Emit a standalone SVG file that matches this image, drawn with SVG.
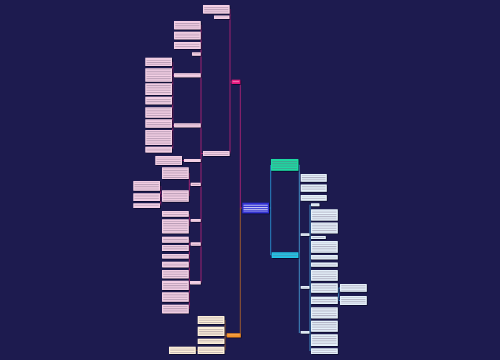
<svg xmlns="http://www.w3.org/2000/svg" width="500" height="360" viewBox="0 0 500 360">
<defs>
<pattern id="dk" width="3" height="2.3" patternUnits="userSpaceOnUse"><rect width="3" height="1" fill="#6a5a78" opacity="0.42"/></pattern>
<pattern id="lt" width="3" height="2.3" patternUnits="userSpaceOnUse"><rect width="3" height="1" fill="#ffffff" opacity="0.8"/></pattern>
<filter id="sh" x="-10%" y="-10%" width="130%" height="130%"><feDropShadow dx="0.7" dy="0.7" stdDeviation="0.3" flood-color="#05041a" flood-opacity="0.9"/></filter>
<style>
.pk{fill:#f4d0e5}.oc{fill:#fcefd9}.bl{fill:#e6f2fb}
.t{fill:url(#dk)}.w{fill:url(#lt)}
.cp{fill:none;stroke:#ab2475;stroke-width:0.9}
.co{fill:none;stroke:#a5602e;stroke-width:0.9}
.cb{fill:none;stroke:#4aa8e0;stroke-width:0.8}
.ct{fill:none;stroke:#2a8fd0;stroke-width:0.9}
</style>
</defs>
<rect width="500" height="360" fill="#1d1b4f"/>
<g id="connectors">
<path class="cp" d="M240.3,84V208H242.3M231.7,82H230M230,9V153.5M203,153.5H201M201,25V283M174,75.2H172.7M174,125.3H172.7M172.7,62V149M182,160.5H184M190.7,184.3H189.3M189.3,173V196M162,196H160.7M160.7,186V205.7M190.7,220.3H189.3M189.3,214V226M190.7,244H189.3M190,282.7H189.3M189.3,239.7V309"/>
<path class="co" d="M240.3,208V333.3M226.7,335.3H225M225,320V350.3M197.7,350.3H195.7"/>
<path class="ct" d="M269,208H270.7M270.7,165V255H271.7"/>
<path class="cb" d="M298.3,165H299.3V333M309.3,234.6H310M309.3,287.3H310M309.3,332.2H310M310,204.7V351M337.7,288H338.7V300.5H340M338.7,288H340"/>
</g>
<g filter="url(#sh)">
<g id="pinkMain"><rect x="231.7" y="79.7" width="8.5" height="4.3" fill="#e5177c"/><rect class="w" x="232.7" y="80.9" width="6.5" height="1.9"/></g>
<g id="center"><rect x="242.3" y="202.7" width="26.7" height="10.6" fill="#2d2dd2"/><rect class="w" x="243.5" y="203.9" width="24.3" height="8.2"/></g>
<g id="teal"><rect x="271" y="159" width="27.3" height="11.7" fill="#1ed9a2"/><rect class="t" x="272.2" y="160.2" width="24.9" height="9.3"/></g>
<g id="cyan"><rect x="271.7" y="252.3" width="26.6" height="5.7" fill="#21c6e8"/><rect class="t" x="272.9" y="253.5" width="24.2" height="3.5"/></g>
<g id="orangeMain"><rect x="226.7" y="333.3" width="14" height="4" fill="#f28c1e"/><rect class="w" x="227.9" y="334.5" width="11.6" height="1.6"/></g>

<g id="pA"><rect class="pk" x="203" y="5" width="26.5" height="8.5"/><rect class="t" x="204.2" y="6.2" width="24.1" height="6.3"/></g>
<g id="pB"><rect class="pk" x="214" y="15.5" width="15.3" height="3.5"/><rect class="t" x="215.2" y="16.7" width="12.9" height="1.1"/></g>
<g id="pBB"><rect class="pk" x="203" y="151" width="26.5" height="5"/><rect class="t" x="204.2" y="152.2" width="24.1" height="2.6"/></g>
<g id="pC"><rect class="pk" x="174" y="21" width="26.7" height="8.3"/><rect class="t" x="175.2" y="22.2" width="24.3" height="6.1"/></g>
<g id="pD"><rect class="pk" x="174" y="31.7" width="26.7" height="7.6"/><rect class="t" x="175.2" y="32.9" width="24.3" height="5.4"/></g>
<g id="pE"><rect class="pk" x="174" y="42" width="26.7" height="7"/><rect class="t" x="175.2" y="43.2" width="24.3" height="4.8"/></g>
<g id="pF"><rect class="pk" x="192" y="52.3" width="8.7" height="3.4"/><rect class="t" x="193.2" y="53.5" width="6.3" height="1.2"/></g>
<g id="pG"><rect class="pk" x="145.3" y="57.7" width="26.7" height="8.3"/><rect class="t" x="146.5" y="58.9" width="24.3" height="6.1"/></g>
<g id="pH"><rect class="pk" x="145.3" y="68.3" width="26.7" height="13.4"/><rect class="t" x="146.5" y="69.5" width="24.3" height="11.2"/></g>
<g id="pI"><rect class="pk" x="174" y="73.2" width="26.7" height="4"/><rect class="t" x="175.2" y="74.4" width="24.3" height="1.8"/></g>
<g id="pJ"><rect class="pk" x="145.3" y="83.3" width="26.7" height="11.7"/><rect class="t" x="146.5" y="84.5" width="24.3" height="9.5"/></g>
<g id="pK"><rect class="pk" x="145.3" y="96.7" width="26.7" height="7.6"/><rect class="t" x="146.5" y="97.9" width="24.3" height="5.4"/></g>
<g id="pL"><rect class="pk" x="145.3" y="107.3" width="26.7" height="10.4"/><rect class="t" x="146.5" y="108.5" width="24.3" height="8.2"/></g>
<g id="pM"><rect class="pk" x="145.3" y="119.3" width="26.7" height="8.4"/><rect class="t" x="146.5" y="120.5" width="24.3" height="6.2"/></g>
<g id="pN"><rect class="pk" x="174" y="123.3" width="26.7" height="4"/><rect class="t" x="175.2" y="124.5" width="24.3" height="1.8"/></g>
<g id="pO"><rect class="pk" x="145.3" y="130" width="26.7" height="15"/><rect class="t" x="146.5" y="131.2" width="24.3" height="12.8"/></g>
<g id="pP"><rect class="pk" x="145.3" y="146.7" width="26.7" height="5.8"/><rect class="t" x="146.5" y="147.9" width="24.3" height="3.6"/></g>
<g id="pQ"><rect class="pk" x="155.3" y="156" width="26.7" height="9"/><rect class="t" x="156.5" y="157.2" width="24.3" height="6.8"/></g>
<g id="pR"><rect class="pk" x="184" y="159" width="16.7" height="3"/><rect class="t" x="185.2" y="160" width="14.3" height="1"/></g>
<g id="pS"><rect class="pk" x="162" y="167.3" width="26.7" height="11.7"/><rect class="t" x="163.2" y="168.5" width="24.3" height="9.5"/></g>
<g id="pT"><rect class="pk" x="190.7" y="182.7" width="10" height="3.3"/><rect class="t" x="191.9" y="183.9" width="7.6" height="1"/></g>
<g id="pU1"><rect class="pk" x="133.3" y="181" width="26.7" height="9.7"/><rect class="t" x="134.5" y="182.2" width="24.3" height="7.5"/></g>
<g id="pU2"><rect class="pk" x="133.3" y="193.3" width="26.7" height="7.7"/><rect class="t" x="134.5" y="194.5" width="24.3" height="5.5"/></g>
<g id="pU3"><rect class="pk" x="133.3" y="203.3" width="26.7" height="4.7"/><rect class="t" x="134.5" y="204.5" width="24.3" height="2.5"/></g>
<g id="pV"><rect class="pk" x="162" y="190.3" width="26.7" height="11.4"/><rect class="t" x="163.2" y="191.5" width="24.3" height="9.2"/></g>
<g id="pW"><rect class="pk" x="162" y="211" width="26.7" height="5.7"/><rect class="t" x="163.2" y="212.2" width="24.3" height="3.5"/></g>
<g id="pX"><rect class="pk" x="190.7" y="219" width="10" height="2.8"/><rect class="t" x="191.9" y="220" width="7.6" height="1"/></g>
<g id="pY"><rect class="pk" x="162" y="219.3" width="26.7" height="14"/><rect class="t" x="163.2" y="220.5" width="24.3" height="11.8"/></g>
<g id="pZ"><rect class="pk" x="162" y="236.7" width="26.7" height="6"/><rect class="t" x="163.2" y="237.9" width="24.3" height="3.8"/></g>
<g id="pAA"><rect class="pk" x="190.7" y="242.3" width="10" height="3.4"/><rect class="t" x="191.9" y="243.5" width="7.6" height="1.2"/></g>
<g id="pAB"><rect class="pk" x="162" y="245" width="26.7" height="6"/><rect class="t" x="163.2" y="246.2" width="24.3" height="3.8"/></g>
<g id="pAC"><rect class="pk" x="162" y="254" width="26.7" height="4.5"/><rect class="t" x="163.2" y="255.2" width="24.3" height="2.3"/></g>
<g id="pAD"><rect class="pk" x="162" y="261.7" width="26.7" height="5.6"/><rect class="t" x="163.2" y="262.9" width="24.3" height="3.4"/></g>
<g id="pAE"><rect class="pk" x="162" y="270" width="26.7" height="8.3"/><rect class="t" x="163.2" y="271.2" width="24.3" height="6.1"/></g>
<g id="pAF"><rect class="pk" x="162" y="280.7" width="26.7" height="9.3"/><rect class="t" x="163.2" y="281.9" width="24.3" height="7.1"/></g>
<g id="pAG"><rect class="pk" x="190" y="281" width="10.7" height="3.3"/><rect class="t" x="191.2" y="282.2" width="8.3" height="1"/></g>
<g id="pAH"><rect class="pk" x="162" y="292.3" width="26.7" height="9.4"/><rect class="t" x="163.2" y="293.5" width="24.3" height="7.2"/></g>
<g id="pAI"><rect class="pk" x="162" y="304.7" width="26.7" height="8.6"/><rect class="t" x="163.2" y="305.9" width="24.3" height="6.4"/></g>

<g id="o1"><rect class="oc" x="197.7" y="316" width="26.6" height="8"/><rect class="t" x="198.9" y="317.2" width="24.2" height="5.8"/></g>
<g id="o2"><rect class="oc" x="197.7" y="326.7" width="26.6" height="9.3"/><rect class="t" x="198.9" y="327.9" width="24.2" height="7.1"/></g>
<g id="o3"><rect class="oc" x="197.7" y="338.7" width="26.6" height="5.3"/><rect class="t" x="198.9" y="339.9" width="24.2" height="3.1"/></g>
<g id="o4"><rect class="oc" x="197.7" y="346.7" width="26.6" height="7.3"/><rect class="t" x="198.9" y="347.9" width="24.2" height="5.1"/></g>
<g id="o5"><rect class="oc" x="169" y="346.7" width="26.7" height="7.3"/><rect class="t" x="170.2" y="347.9" width="24.3" height="5.1"/></g>

<g id="r1"><rect class="bl" x="300.7" y="174" width="26" height="7.7"/><rect class="t" x="301.9" y="175.2" width="23.6" height="5.5"/></g>
<g id="r2"><rect class="bl" x="300.7" y="184.5" width="26" height="7.2"/><rect class="t" x="301.9" y="185.7" width="23.6" height="5"/></g>
<g id="r3"><rect class="bl" x="300.7" y="195" width="26" height="5.7"/><rect class="t" x="301.9" y="196.2" width="23.6" height="3.5"/></g>
<g id="l1"><rect class="bl" x="300.7" y="233.3" width="8.6" height="2.6"/><rect class="t" x="301.9" y="234.2" width="6.2" height="1"/></g>
<g id="l2"><rect class="bl" x="300.7" y="286" width="8.6" height="2.7"/><rect class="t" x="301.9" y="286.9" width="6.2" height="1"/></g>
<g id="l3"><rect class="bl" x="300.7" y="331" width="8.6" height="2.5"/><rect class="t" x="301.9" y="331.8" width="6.2" height="1"/></g>
<g id="s1"><rect class="bl" x="311" y="203.3" width="8.3" height="2.8"/><rect class="t" x="312.2" y="204.2" width="5.9" height="1"/></g>
<g id="s2"><rect class="bl" x="311" y="209.3" width="26.7" height="11.2"/><rect class="t" x="312.2" y="210.5" width="24.3" height="9"/></g>
<g id="s3"><rect class="bl" x="311" y="222.5" width="26.7" height="10.8"/><rect class="t" x="312.2" y="223.7" width="24.3" height="8.6"/></g>
<g id="s4"><rect class="bl" x="311" y="236" width="14.7" height="3"/><rect class="t" x="312.2" y="237" width="12.3" height="1"/></g>
<g id="s5"><rect class="bl" x="311" y="241" width="26.7" height="11.7"/><rect class="t" x="312.2" y="242.2" width="24.3" height="9.5"/></g>
<g id="s6"><rect class="bl" x="311" y="255" width="26.7" height="4.3"/><rect class="t" x="312.2" y="256.2" width="24.3" height="2.1"/></g>
<g id="s7"><rect class="bl" x="311" y="262.5" width="26.7" height="4.2"/><rect class="t" x="312.2" y="263.7" width="24.3" height="2"/></g>
<g id="s8"><rect class="bl" x="311" y="270" width="26.7" height="10.7"/><rect class="t" x="312.2" y="271.2" width="24.3" height="8.5"/></g>
<g id="s9"><rect class="bl" x="311" y="283.3" width="26.7" height="9.4"/><rect class="t" x="312.2" y="284.5" width="24.3" height="7.2"/></g>
<g id="s10"><rect class="bl" x="311" y="296.7" width="26.7" height="7.3"/><rect class="t" x="312.2" y="297.9" width="24.3" height="5.1"/></g>
<g id="s11"><rect class="bl" x="340" y="284" width="26.7" height="7.7"/><rect class="t" x="341.2" y="285.2" width="24.3" height="5.5"/></g>
<g id="s12"><rect class="bl" x="340" y="296" width="26.7" height="9"/><rect class="t" x="341.2" y="297.2" width="24.3" height="6.8"/></g>
<g id="s13"><rect class="bl" x="311" y="307.3" width="26.7" height="11"/><rect class="t" x="312.2" y="308.5" width="24.3" height="8.8"/></g>
<g id="s14"><rect class="bl" x="311" y="320.7" width="26.7" height="11"/><rect class="t" x="312.2" y="321.9" width="24.3" height="8.8"/></g>
<g id="s15"><rect class="bl" x="311" y="334.3" width="26.7" height="11.7"/><rect class="t" x="312.2" y="335.5" width="24.3" height="9.5"/></g>
<g id="s16"><rect class="bl" x="311" y="348.3" width="26.7" height="5.7"/><rect class="t" x="312.2" y="349.5" width="24.3" height="3.5"/></g>
</g>
</svg>
